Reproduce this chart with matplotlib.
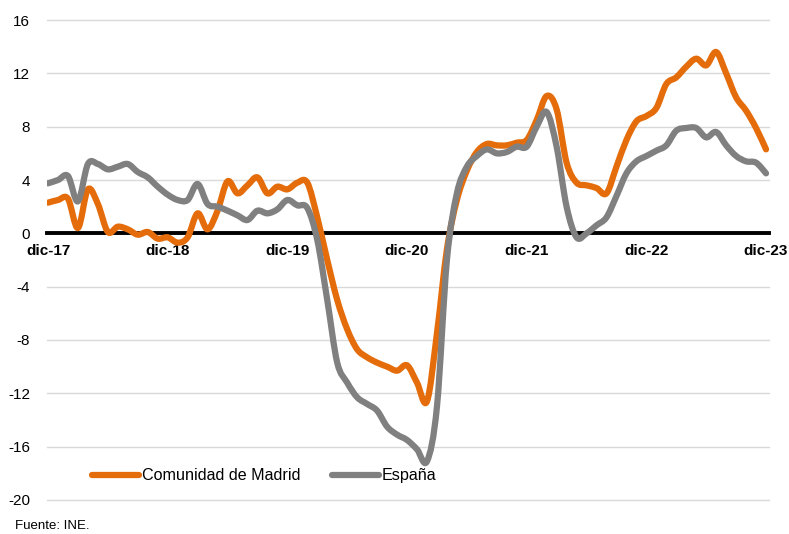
import numpy as np
import matplotlib
matplotlib.use("Agg")
import matplotlib.pyplot as plt
from matplotlib.path import Path
from matplotlib.patches import PathPatch
from matplotlib.lines import Line2D

plt.rcParams['font.family'] = ['Liberation Sans', 'DejaVu Sans']
plt.rcParams['axes.unicode_minus'] = False

# Monthly series, dic-17 .. dic-23 (73 months)
madrid = [2.3, 2.5, 2.6, 0.4, 3.3, 2.2, 0.1, 0.5, 0.3, -0.1, 0.1, -0.4,
          -0.3, -0.7, -0.3, 1.5, 0.3, 1.7, 3.9, 3.0, 3.6, 4.2, 3.0, 3.5,
          3.3, 3.8, 3.8, 1.2, -2.0, -5.0, -7.2, -8.7, -9.3, -9.7, -10.0, -10.3,
          -9.9, -11.2, -12.6, -7.5, -1.2, 2.5, 4.7, 6.1, 6.7, 6.6, 6.6, 6.8,
          7.0, 8.5, 10.3, 9.3, 5.3, 3.8, 3.6, 3.4, 3.0, 5.0, 7.0, 8.4,
          8.8, 9.4, 11.2, 11.7, 12.5, 13.1, 12.6, 13.6, 12.0, 10.2, 9.2, 7.9,
          6.3]
espana = [3.75, 4.0, 4.3, 2.4, 5.2, 5.2, 4.8, 5.0, 5.2, 4.6, 4.2, 3.5,
          2.9, 2.5, 2.5, 3.7, 2.2, 2.0, 1.7, 1.35, 1.0, 1.7, 1.5, 1.8,
          2.5, 2.1, 1.9, -0.5, -5.0, -9.7, -11.2, -12.3, -12.8, -13.3, -14.5, -15.1,
          -15.5, -16.2, -17.1, -13.0, -2.0, 3.0, 5.0, 5.8, 6.3, 6.0, 6.1, 6.5,
          6.5, 8.0, 9.1, 6.5, 2.0, -0.3, 0.0, 0.6, 1.2, 2.8, 4.5, 5.4,
          5.8, 6.2, 6.6, 7.7, 7.9, 7.9, 7.2, 7.6, 6.6, 5.8, 5.4, 5.3,
          4.5]
tick_labels = ["dic-17", "dic-18", "dic-19", "dic-20", "dic-21", "dic-22", "dic-23"]
series_names = ["Comunidad de Madrid", "España"]
colors = ["#E46C0A", "#808080"]


def smooth_path(y):
    """Cubic Bezier path through the points (Catmull-Rom style smoothing)."""
    y = np.asarray(y, float)
    x = np.arange(len(y), dtype=float)
    pts = np.column_stack([x, y])
    verts = [pts[0]]
    codes = [Path.MOVETO]
    n = len(pts)
    for i in range(n - 1):
        p0 = pts[i - 1] if i > 0 else pts[i]
        p1 = pts[i]
        p2 = pts[i + 1]
        p3 = pts[i + 2] if i + 2 < n else pts[i + 1]
        c1 = p1 + (p2 - p0) / 6.0
        c2 = p2 - (p3 - p1) / 6.0
        verts += [c1, c2, p2]
        codes += [Path.CURVE4] * 3
    return Path(verts, codes)


fig = plt.figure(figsize=(7.89, 5.34), dpi=100)
ax = fig.add_axes([0.0596, 0.0637, 0.9151, 0.8988])

ax.set_xlim(-0.1, 72.3)
ax.set_ylim(-20, 16)
ax.set_yticks(np.arange(-20, 17, 4))
ax.yaxis.grid(True, color="#d9d9d9", linewidth=1.0, clip_on=False)
ax.set_axisbelow(True)

for side in ["top", "right", "left"]:
    ax.spines[side].set_visible(False)
ax.spines["bottom"].set_position(("data", 0))
ax.spines["bottom"].set_linewidth(2.8)
ax.spines["bottom"].set_color("black")
ax.spines["bottom"].set_zorder(2.5)

ax.set_xticks(np.arange(0, 73, 12))
ax.set_xticklabels(tick_labels, fontweight="bold", fontsize=11)
ax.tick_params(axis="x", length=0, pad=8)
ax.tick_params(axis="y", length=0, pad=12, labelsize=11)
for gl in ax.get_ygridlines():
    gl.set_clip_on(False)

for data, col in zip([madrid, espana], colors):
    patch = PathPatch(smooth_path(data), facecolor="none", edgecolor=col,
                      linewidth=4.5, capstyle="round", joinstyle="round",
                      transform=ax.transData, zorder=3)
    ax.add_patch(patch)

handles = [Line2D([0], [0], color=c, linewidth=4.5, solid_capstyle="round")
           for c in colors]
fig.legend(handles, series_names, loc="center", bbox_to_anchor=(0.335, 0.109),
           ncol=2, frameon=False, fontsize=11.6, handlelength=2.9,
           handletextpad=0.18, columnspacing=2.0)

fig.text(0.019, 0.004, "Fuente: INE.", fontsize=9.5, ha="left", va="bottom")

fig.savefig("out.png", dpi=100)
